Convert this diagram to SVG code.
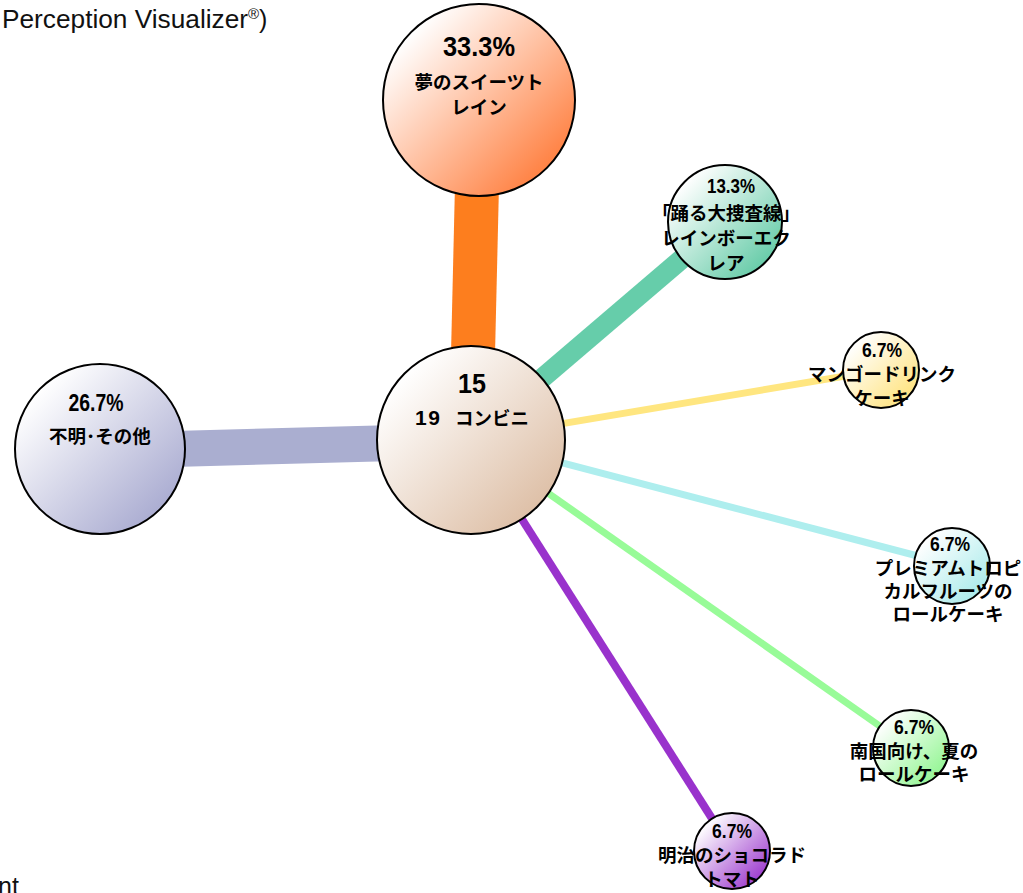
<svg xmlns="http://www.w3.org/2000/svg" width="1023" height="893" viewBox="0 0 1023 893">
<style>
.node{stroke:#000;stroke-width:2}
.pct{font-family:"Liberation Sans","Noto Sans CJK JP",sans-serif;font-weight:bold;text-anchor:middle;fill:#000}
.lbl{font-family:"Noto Sans CJK JP","Liberation Sans",sans-serif;font-weight:bold;font-size:18.5px;text-anchor:middle;fill:#000}
.title{font-family:"Liberation Sans","Noto Sans CJK JP",sans-serif;font-size:25px;fill:#111}
.conn{fill:none;stroke-linecap:butt}
</style>
<defs>
<linearGradient id="gOrange" x1="0.15" y1="0.15" x2="0.9" y2="0.9"><stop offset="0" stop-color="#ffffff"/><stop offset="1" stop-color="#ff7a38"/></linearGradient>
<linearGradient id="gCenter" x1="0.15" y1="0.15" x2="0.9" y2="0.9"><stop offset="0" stop-color="#ffffff"/><stop offset="1" stop-color="#dcbca2"/></linearGradient>
<linearGradient id="gLeft" x1="0.15" y1="0.15" x2="0.9" y2="0.9"><stop offset="0" stop-color="#ffffff"/><stop offset="1" stop-color="#a6a8cf"/></linearGradient>
<linearGradient id="gGreen" x1="0.15" y1="0.15" x2="0.9" y2="0.9"><stop offset="0" stop-color="#ffffff"/><stop offset="1" stop-color="#5fc9a4"/></linearGradient>
<linearGradient id="gYellow" x1="0.15" y1="0.15" x2="0.9" y2="0.9"><stop offset="0" stop-color="#ffffff"/><stop offset="1" stop-color="#ffe27a"/></linearGradient>
<linearGradient id="gCyan" x1="0.15" y1="0.15" x2="0.9" y2="0.9"><stop offset="0" stop-color="#ffffff"/><stop offset="1" stop-color="#a6eaea"/></linearGradient>
<linearGradient id="gLGreen" x1="0.15" y1="0.15" x2="0.9" y2="0.9"><stop offset="0" stop-color="#ffffff"/><stop offset="1" stop-color="#8ff58f"/></linearGradient>
<linearGradient id="gPurple" x1="0.15" y1="0.15" x2="0.9" y2="0.9"><stop offset="0" stop-color="#ffffff"/><stop offset="1" stop-color="#9a35cc"/></linearGradient>
</defs>
<rect width="1023" height="893" fill="#ffffff"/>
<text class="title" x="2" y="28"><tspan textLength="246" lengthAdjust="spacingAndGlyphs">Perception Visualizer</tspan><tspan font-size="15" dy="-9">®</tspan><tspan dy="9">)</tspan></text>
<text class="title" x="-2" y="895">nt</text>
<g id="connectors">
<line class="conn" x1="471" y1="439" x2="479" y2="100" stroke="#fd7e1e" stroke-width="44"/>
<line class="conn" x1="471" y1="441" x2="100" y2="451" stroke="#aaaed0" stroke-width="36"/>
<line class="conn" x1="471" y1="439" x2="725" y2="222" stroke="#66cdaa" stroke-width="20"/>
<line class="conn" x1="471" y1="439" x2="881" y2="370" stroke="#ffe680" stroke-width="7"/>
<line class="conn" x1="471" y1="439" x2="952" y2="565" stroke="#aeeeee" stroke-width="7"/>
<line class="conn" x1="471" y1="439" x2="911" y2="748" stroke="#98fb98" stroke-width="7"/>
<line class="conn" x1="471" y1="439" x2="732" y2="850" stroke="#9932cc" stroke-width="8"/>
</g>
<g id="node-top">
<circle class="node" cx="479" cy="100" r="96" fill="url(#gOrange)"/>
<text class="pct" x="479" y="56" font-size="27" textLength="72" lengthAdjust="spacingAndGlyphs">33.3%</text>
<text class="lbl" x="479" y="89" font-size="19">夢のスイーツト</text>
<text class="lbl" x="479" y="114" font-size="19">レイン</text>
</g>
<g id="node-left">
<circle class="node" cx="100" cy="449" r="85" fill="url(#gLeft)"/>
<text class="pct" x="96" y="411" font-size="23" textLength="55" lengthAdjust="spacingAndGlyphs">26.7%</text>
<text class="lbl" x="100" y="443" font-size="19">不明･その他</text>
</g>
<g id="node-center">
<circle class="node" cx="471" cy="440" r="94" fill="url(#gCenter)"/>
<text class="pct" x="472" y="393" font-size="27" textLength="28" lengthAdjust="spacingAndGlyphs">15</text>
<text class="lbl" y="425" style="text-anchor:start"><tspan x="415" font-family="Liberation Sans" font-size="21" textLength="25" lengthAdjust="spacing">19</tspan><tspan x="455">コンビニ</tspan></text>
</g>
<g id="node-green">
<circle class="node" cx="725" cy="222" r="57" fill="url(#gGreen)"/>
<text class="pct" x="731" y="193" font-size="21" textLength="48" lengthAdjust="spacingAndGlyphs">13.3%</text>
<text class="lbl" x="726" y="220">「踊る大捜査線」</text>
<text class="lbl" x="726" y="245">レインボーエク</text>
<text class="lbl" x="726" y="270">レア</text>
</g>
<g id="node-yellow">
<circle class="node" cx="881" cy="370" r="38" fill="url(#gYellow)"/>
<text class="pct" x="882" y="357" font-size="20" textLength="40" lengthAdjust="spacingAndGlyphs">6.7%</text>
<text class="lbl" x="882" y="381">マンゴードリンク</text>
<text class="lbl" x="882" y="405">ケーキ</text>
</g>
<g id="node-cyan">
<circle class="node" cx="952" cy="566" r="38" fill="url(#gCyan)"/>
<text class="pct" x="950" y="551" font-size="20" textLength="40" lengthAdjust="spacingAndGlyphs">6.7%</text>
<text class="lbl" x="948" y="575">プレミアムトロピ</text>
<text class="lbl" x="948" y="598">カルフルーツの</text>
<text class="lbl" x="948" y="621">ロールケーキ</text>
</g>
<g id="node-lgreen">
<circle class="node" cx="911" cy="748" r="38" fill="url(#gLGreen)"/>
<text class="pct" x="914" y="734" font-size="20" textLength="40" lengthAdjust="spacingAndGlyphs">6.7%</text>
<text class="lbl" x="914" y="758">南国向け、夏の</text>
<text class="lbl" x="914" y="781">ロールケーキ</text>
</g>
<g id="node-purple">
<circle class="node" cx="732" cy="851" r="38" fill="url(#gPurple)"/>
<text class="pct" x="732" y="838" font-size="20" textLength="40" lengthAdjust="spacingAndGlyphs">6.7%</text>
<text class="lbl" x="732" y="862">明治のショコラド</text>
<text class="lbl" x="732" y="886">トマト</text>
</g>
</svg>
